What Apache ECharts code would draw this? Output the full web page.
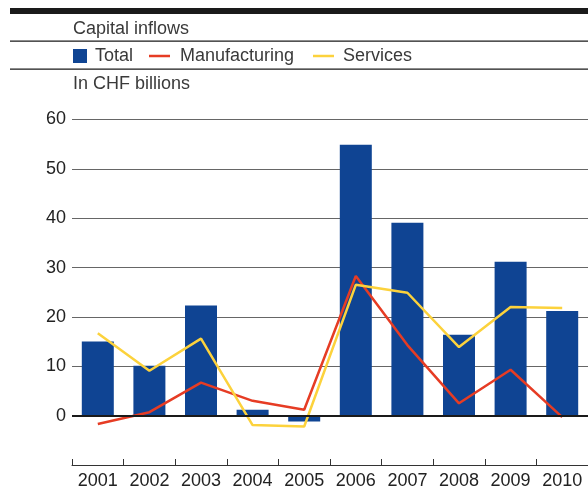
<!DOCTYPE html>
<html><head><meta charset="utf-8">
<script src="https://cdn.jsdelivr.net/npm/echarts@6/dist/echarts.min.js"></script>
<style>html,body{margin:0;padding:0;background:#fff}#c{width:588px;height:490px}</style>
</head><body><div id="c"></div>
<script>
const years = ['2001','2002','2003','2004','2005','2006','2007','2008','2009','2010'];
const total = [15.0, 10.1, 22.3, 1.2, -1.2, 54.9, 39.1, 16.4, 31.2, 21.2];
const manufacturing = [-1.7, 0.7, 6.7, 3.0, 1.2, 28.3, 14.3, 2.5, 9.3, -0.3];
const services = [16.7, 9.1, 15.6, -1.9, -2.2, 26.5, 24.9, 13.9, 22.0, 21.8];
const yMin = -10, yMax = 60, yStep = 10;

const FONT = 'Liberation Sans, Arial, Helvetica, sans-serif';
const BLUE = '#0f4493', RED = '#e63c24', YELLOW = '#fcd23c';
const chart = echarts.init(document.getElementById('c'), null, {renderer: 'canvas'});

function legendFor(name, icon, w, h, left, padLeft) {
  return {
    data: [{name: name, icon: icon}],
    left: left, top: 47, padding: 0,
    itemWidth: w, itemHeight: h,
    selectedMode: false,
    textStyle: {fontFamily: FONT, fontSize: 18, color: '#3a3a3a', padding: [0, 0, 0, padLeft]}
  };
}

chart.setOption({
  animation: false,
  backgroundColor: '#fff',
  graphic: [
    {type: 'rect', shape: {x: 10, y: 8, width: 578, height: 6}, style: {fill: '#1a1a1a'}, silent: true},
    {type: 'rect', shape: {x: 10, y: 40.5, width: 578, height: 1.2}, style: {fill: '#1a1a1a'}, silent: true},
    {type: 'rect', shape: {x: 10, y: 68.5, width: 578, height: 1.2}, style: {fill: '#1a1a1a'}, silent: true},
    {type: 'text', left: 73, top: 20, style: {text: 'Capital inflows', fontFamily: FONT, fontSize: 18, fill: '#3a3a3a'}, silent: true},
    {type: 'text', left: 73, top: 75, style: {text: 'In CHF billions', fontFamily: FONT, fontSize: 18, fill: '#3a3a3a'}, silent: true}
  ],
  legend: [
    legendFor('Total', 'rect', 14, 14, 73, 3),
    legendFor('Manufacturing', 'rect', 21, 2.5, 149, 5),
    legendFor('Services', 'rect', 21, 2.5, 313, 4)
  ],
  grid: {left: 72, top: 119.5, width: 520, height: 345.6, containLabel: false},
  xAxis: {
    type: 'category', data: years, boundaryGap: true,
    axisLine: {show: true, onZero: false, lineStyle: {color: '#333', width: 1}},
    axisTick: {show: true, inside: true, length: 6, alignWithLabel: false, lineStyle: {color: '#333'}},
    axisLabel: {fontFamily: FONT, fontSize: 18, color: '#222', margin: 7, interval: 0},
    splitLine: {show: false}
  },
  yAxis: {
    type: 'value', min: yMin, max: yMax, interval: yStep,
    axisLine: {show: false}, axisTick: {show: false},
    axisLabel: {fontFamily: FONT, fontSize: 18, color: '#222', margin: 6,
      formatter: function (v) { return v === yMin ? '' : String(v); }},
    splitLine: {show: true, lineStyle: {color: '#666', width: 1}}
  },
  series: [
    {name: 'Total', type: 'bar', data: total, barWidth: 32, itemStyle: {color: BLUE},
      emphasis: {disabled: true},
      markLine: {silent: true, symbol: 'none', label: {show: false},
        lineStyle: {color: '#1a1a1a', width: 2, type: 'solid'}, data: [{yAxis: 0}]}},
    {name: 'Manufacturing', type: 'line', data: manufacturing, showSymbol: false, symbol: 'none',
      lineStyle: {color: RED, width: 2.5}, itemStyle: {color: RED}, emphasis: {disabled: true}},
    {name: 'Services', type: 'line', data: services, showSymbol: false, symbol: 'none',
      lineStyle: {color: YELLOW, width: 2.5}, itemStyle: {color: YELLOW}, emphasis: {disabled: true}}
  ]
});
</script></body></html>
